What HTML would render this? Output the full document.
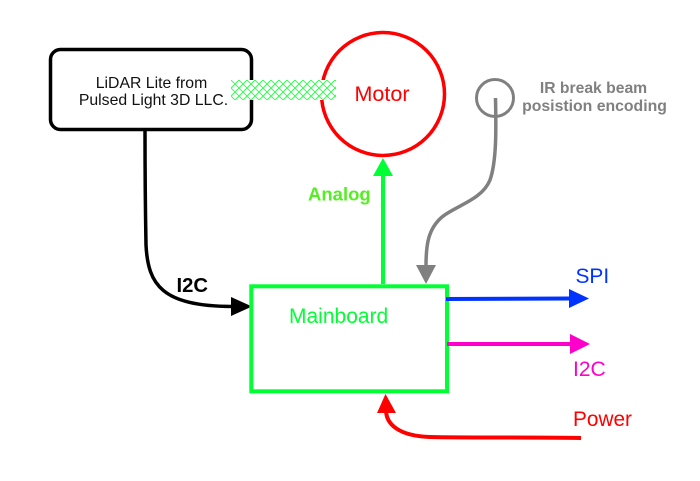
<!DOCTYPE html>
<html>
<head>
<meta charset="utf-8">
<style>
html,body{margin:0;padding:0;background:#fff;}
svg{display:block;}
text{font-family:"Liberation Sans",sans-serif;}
</style>
</head>
<body>
<svg width="700" height="481" viewBox="0 0 700 481" xmlns="http://www.w3.org/2000/svg">
<defs>
<pattern id="h" width="8" height="8" patternUnits="userSpaceOnUse" x="231" y="80">
<path d="M0 0L8 8M8 0L0 8" stroke="#22ff44" stroke-width="0.9" fill="none"/>
</pattern>
</defs>
<rect width="700" height="481" fill="#fff"/>
<rect x="50.500" y="49.500" width="201" height="80" rx="10" fill="#fff" stroke="#000" stroke-width="3.500"/>
<text x="151.500" y="88" font-size="15.800" text-anchor="middle" fill="#111">LiDAR Lite from</text>
<text x="153.500" y="105" font-size="15.800" text-anchor="middle" fill="#111">Pulsed Light 3D LLC.</text>
<circle cx="383" cy="94" r="61.500" fill="none" stroke="#ff0000" stroke-width="3.500"/>
<text x="382" y="101" font-size="21.500" text-anchor="middle" fill="#ff0000">Motor</text>
<rect x="231" y="80" width="105" height="20" fill="#fff"/>
<rect x="231" y="80" width="105" height="20" fill="url(#h)"/>
<path d="M145 131C145 160 145 190 146 245C148 285 162 306 232 306.500" fill="none" stroke="#000" stroke-width="3.500"/>
<polygon points="231,297 252,306.500 231,316" fill="#000"/>
<text x="176.500" y="292" font-size="20.300" font-weight="bold" fill="#000">I2C</text>
<rect x="251.300" y="286.300" width="195.700" height="105" fill="none" stroke="#00ff33" stroke-width="4"/>
<text x="289" y="323" font-size="21" fill="#00ff33">Mainboard</text>
<line x1="383" y1="284" x2="383" y2="176" stroke="#00ff33" stroke-width="4"/>
<polygon points="373,176 383,158 393,176" fill="#00ff33"/>
<text x="308" y="200.500" font-size="18.500" font-weight="bold" fill="#55ee22">Analog</text>
<circle cx="495" cy="98" r="18.500" fill="none" stroke="#808080" stroke-width="3"/>
<path d="M495.500 98C496 125 497 160 490 180C482 200 455 206 442 217C428 229 426 245 426 266" fill="none" stroke="#808080" stroke-width="3.500"/>
<polygon points="416,265 436,265 426,284" fill="#808080"/>
<text x="593.500" y="93" font-size="15.700" font-weight="bold" text-anchor="middle" fill="#808080">IR break beam</text>
<text x="594.500" y="111" font-size="15.800" font-weight="bold" text-anchor="middle" fill="#808080">posistion encoding</text>
<path d="M446 299L570 298.500" fill="none" stroke="#0033ff" stroke-width="4"/>
<polygon points="569,289 589,298.500 569,308" fill="#0033ff"/>
<text x="575.500" y="283" font-size="20.900" fill="#0033ff">SPI</text>
<line x1="447" y1="344" x2="571" y2="344" stroke="#ff00cc" stroke-width="4"/>
<polygon points="570,334 590,344 570,354" fill="#ff00cc"/>
<text x="573" y="376" font-size="21" fill="#ff00cc">I2C</text>
<path d="M581 438C520 437 470 438 430 437C400 436 386 425 386 410" fill="none" stroke="#ff0000" stroke-width="4"/>
<polygon points="377,413 385.500,394 396,413" fill="#ff0000"/>
<text x="573" y="426" font-size="20.800" fill="#ff0000">Power</text>
</svg>
</body>
</html>
